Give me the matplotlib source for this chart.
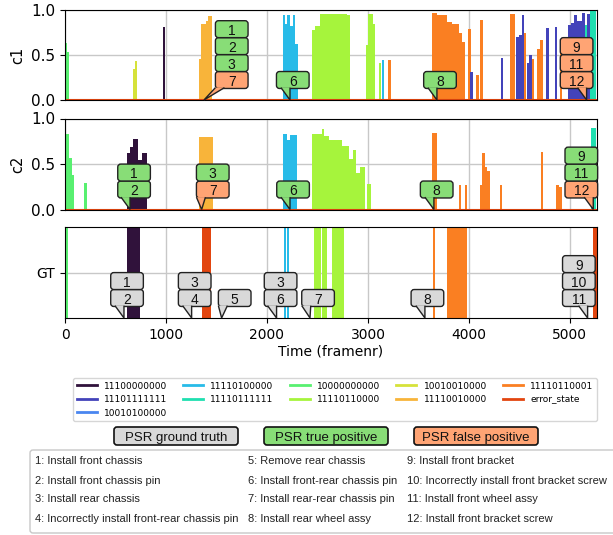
import numpy as np
import matplotlib.pyplot as plt
import matplotlib.patches as mpatches
import matplotlib.transforms as mtransforms
from matplotlib.lines import Line2D

n_frames = 5268

states = ['11100000000', '11101111111', '10010100000', '11110100000', '11110111111',
          '10000000000', '11110110000', '10010010000', '11110010000', '11110110001',
          'error_state']
state_colors = ['#30123b', '#4343ba', '#4a86f0', '#28bbe8', '#1fdfb0',
                '#58f070', '#a6f43c', '#d6e23a', '#f8b43a', '#fa7f22',
                '#e2450f']

# confidence blocks per state: (start frame, end frame, value)
c1_blocks = {
    '10000000000': [(0, 15, 0.63), (15, 40, 0.53)],
    '10010010000': [(670, 690, 0.35), (690, 712, 0.43)],
    '11100000000': [(970, 995, 0.81)],
    '11110010000': [(1327, 1345, 0.46), (1345, 1395, 0.85), (1395, 1420, 0.88), (1420, 1455, 0.93)],
    '11110100000': [(2158, 2180, 0.95), (2180, 2200, 0.85), (2200, 2225, 0.95), (2225, 2260, 0.82),
                    (2260, 2280, 0.95), (2280, 2307, 0.62), (3140, 3160, 0.45)],
    '11110110000': [(2442, 2475, 0.78), (2475, 2525, 0.82), (2525, 2790, 0.96), (2790, 2822, 0.95),
                    (2980, 3003, 0.61), (3003, 3053, 0.96), (3053, 3069, 0.85), (3109, 3129, 0.41)],
    '11110110001': [(3200, 3225, 0.44), (3630, 3680, 0.97), (3680, 3779, 0.94), (3779, 3828, 0.87),
                    (3828, 3878, 0.84), (3878, 3905, 0.85), (3905, 3927, 0.74), (3927, 3960, 0.65),
                    (3995, 4020, 0.79), (4070, 4100, 0.28), (4110, 4140, 0.89), (4323, 4337, 0.44),
                    (4406, 4455, 0.96), (4535, 4561, 0.75), (4620, 4645, 0.46), (4670, 4703, 0.57),
                    (4703, 4733, 0.67), (4900, 4925, 0.55), (5100, 5120, 0.4)],
    '11101111111': [(4010, 4040, 0.31), (4314, 4340, 0.47), (4465, 4495, 0.7), (4495, 4521, 0.72),
                    (4521, 4545, 0.95), (4571, 4595, 0.41), (4595, 4620, 0.5), (4762, 4789, 0.8),
                    (4851, 4874, 0.81), (4980, 5010, 0.83), (5010, 5040, 0.86), (5040, 5070, 0.95),
                    (5070, 5115, 0.88), (5115, 5149, 0.97), (5170, 5198, 0.96)],
    '11110111111': [(5149, 5170, 0.83), (5198, 5257, 1.0)],
}

c2_blocks = {
    '10000000000': [(0, 43, 0.83), (43, 66, 0.57), (66, 89, 0.38), (191, 214, 0.29)],
    '11100000000': [(617, 644, 0.62), (644, 670, 0.69), (670, 726, 0.77), (726, 759, 0.54),
                    (759, 809, 0.62)],
    '11110010000': [(1323, 1462, 0.8)],
    '11110100000': [(2155, 2200, 0.83), (2200, 2232, 0.76), (2232, 2294, 0.82)],
    '11110110000': [(2442, 2541, 0.83), (2541, 2564, 0.89), (2564, 2617, 0.81), (2617, 2739, 0.76),
                    (2739, 2772, 0.7), (2772, 2815, 0.7), (2815, 2855, 0.56), (2855, 2881, 0.65),
                    (2881, 2921, 0.4), (2921, 2970, 0.47), (2987, 3026, 0.28)],
    '11110110001': [(3637, 3680, 0.84), (3904, 3924, 0.27), (3960, 3983, 0.27), (4109, 4132, 0.27),
                    (4132, 4158, 0.62), (4158, 4181, 0.47), (4181, 4207, 0.42), (4307, 4330, 0.27),
                    (4710, 4736, 0.63), (4861, 4888, 0.27), (4894, 4917, 0.25)],
    '11110111111': [(5208, 5254, 0.9)],
}

# ground truth state intervals
gt_spans = {
    '10000000000': [(0, 30)],
    '11100000000': [(616, 745)],
    'error_state': [(1360, 1445), (5225, 5268)],
    '11110100000': [(2170, 2185), (2200, 2215)],
    '11110110000': [(2465, 2533), (2543, 2590), (2647, 2766)],
    '11110110001': [(3647, 3660), (3785, 3977)],
}

# PSR callouts: (frame, labels top->bottom, kind per label)
c1_callouts = [(1376, [1, 2, 3, 7], ['tp', 'tp', 'tp', 'fp']),
               (2228, [6], ['tp']),
               (3683, [8], ['tp']),
               (5165, [9, 11, 12], ['fp', 'fp', 'fp'])]
c2_callouts = [(644, [1, 2], ['tp', 'tp']),
               (1353, [3, 7], ['tp', 'fp']),
               (2228, [6], ['tp']),
               (3653, [8], ['tp']),
               (5231, [9, 11, 12], ['tp', 'tp', 'fp'])]
gt_callouts = [(584, [1, 2], ['gt', 'gt']),
               (1254, [3, 4], ['gt', 'gt']),
               (1551, [5], ['gt']),
               (2095, [3, 6], ['gt', 'gt']),
               (2426, [7], ['gt']),
               (3564, [8], ['gt']),
               (5175, [9, 10, 11], ['gt', 'gt', 'gt'])]
c1_dx = [20, 2, 2.2, -7.2]
c2_dx = [2.9, 8, 2.2, 2, -8.6]
gt_dx = [2.2, 2.2, 9.4, 2.9, 5.8, 1.8, -6.3]

action_names = ['1: Install front chassis', '2: Install front chassis pin',
                '3: Install rear chassis', '4: Incorrectly install front-rear chassis pin',
                '5: Remove rear chassis', '6: Install front-rear chassis pin',
                '7: Install rear-rear chassis pin', '8: Install rear wheel assy',
                '9: Install front bracket', '10: Incorrectly install front bracket screw',
                '11: Install front wheel assy', '12: Install front bracket screw']

kind_colors = {'gt': '#d9d9d9', 'tp': '#88dd77', 'fp': '#ffa474'}
kind_names = [('gt', 'PSR ground truth'), ('tp', 'PSR true positive'), ('fp', 'PSR false positive')]

color_of = dict(zip(states, state_colors))
W, H = 613, 535
fig = plt.figure(figsize=(W / 100, H / 100), dpi=100)


def axes_px(top, bottom):
    return fig.add_axes([65 / W, 1 - bottom / H, 532 / W, (bottom - top) / H])


ax1 = axes_px(10, 100)
ax2 = axes_px(118.5, 209.5)
ax3 = axes_px(227, 318)


def draw_blocks(ax, blocks):
    for st, rows in blocks.items():
        arr = np.array(rows, dtype=float)
        ax.bar(arr[:, 0], arr[:, 2], width=arr[:, 1] - arr[:, 0], align='edge',
               color=color_of[st], linewidth=0, zorder=2)
    ax.plot([0, n_frames], [0, 0], color=color_of['error_state'], lw=1.5, zorder=2.5)


def callout(ax, frame, nums, kinds, dx):
    trans = mtransforms.Affine2D().scale(fig.dpi / 72.) + \
        mtransforms.ScaledTranslation(frame, 0, ax.transData)
    w, h = 23.5, 12.2
    for i, (n, k) in enumerate(zip(nums[::-1], kinds[::-1])):
        cy = 14.4 + i * h
        fc = kind_colors[k]
        box = mpatches.FancyBboxPatch((dx - w / 2, cy - h / 2), w, h,
                                      boxstyle='round,pad=0,rounding_size=2.2',
                                      fc=fc, ec='#222222', lw=1, transform=trans,
                                      clip_on=False, zorder=5)
        ax.add_patch(box)
        if i == 0:
            yb = cy - h / 2
            bl, br = dx - w / 2, dx + w / 2
            xr = min(max(0.0, bl + 6.5), br - 2)
            xl = xr - 6.5
            tail = mpatches.Polygon([(xl, yb + 0.6), (0, 0), (xr, yb + 0.6)], closed=False,
                                    fc=fc, ec='#222222', lw=1, transform=trans,
                                    clip_on=False, zorder=5.1)
            ax.add_patch(tail)
        ax.text(dx, cy, str(n), transform=trans, ha='center', va='center_baseline',
                fontsize=10, family='Liberation Sans', color='#111111', zorder=6, clip_on=False)


draw_blocks(ax1, c1_blocks)
draw_blocks(ax2, c2_blocks)
for st, spans in gt_spans.items():
    arr = np.array(spans, dtype=float)
    ax3.bar(arr[:, 0], np.ones(len(arr)), width=arr[:, 1] - arr[:, 0], align='edge',
            color=color_of[st], linewidth=0, zorder=2)

for ax in (ax1, ax2, ax3):
    ax.set_xlim(0, n_frames)
    ax.set_ylim(0, 1)
    ax.set_axisbelow(True)
    ax.grid(True, color='#c8c8c8', lw=1)
    ax.set_xticks([0, 1000, 2000, 3000, 4000, 5000])
for ax, name in ((ax1, 'c1'), (ax2, 'c2')):
    ax.set_yticks([0, 0.5, 1.0])
    ax.set_yticklabels(['0.0', '0.5', '1.0'], fontsize=11)
    ax.set_ylabel(name, fontsize=10.5, labelpad=4)
    ax.tick_params(axis='x', length=0, labelbottom=False)
ax3.set_yticks([0.5])
ax3.set_yticklabels(['GT'], fontsize=10)
ax3.tick_params(axis='x', labelsize=10)
ax3.set_xlabel('Time (framenr)', fontsize=10, labelpad=2)

for ax, groups, dxs in ((ax1, c1_callouts, c1_dx), (ax2, c2_callouts, c2_dx), (ax3, gt_callouts, gt_dx)):
    for (frame, nums, kinds), dx in zip(groups, dxs):
        callout(ax, frame, nums, kinds, dx)

# state legend
handles = [Line2D([], [], color=c, lw=2) for c in state_colors]
fig.legend(handles, states, ncol=5, loc='upper right', bbox_to_anchor=(597 / W, 1 - 378 / H),
           fontsize=6.5, frameon=True, borderaxespad=0, columnspacing=1.8, handlelength=2.2)


def px_box(x0, y0, x1, y1, **kw):
    p = mpatches.FancyBboxPatch((x0 / 100, (H - y1) / 100), (x1 - x0) / 100, (y1 - y0) / 100,
                                transform=fig.dpi_scale_trans, **kw)
    fig.add_artist(p)


# PSR kind boxes
for (k, txt), cx in zip(kind_names, [176, 326, 476]):
    px_box(cx - 62, 427, cx + 62, 445, boxstyle='round,pad=0,rounding_size=0.03',
           fc=kind_colors[k], ec='#111111', lw=1.2)
    fig.text(cx / W, 1 - 436 / H, txt, ha='center', va='center_baseline', fontsize=9.5,
             family='Liberation Sans', color='#111111')

# action list
px_box(30, 450, 625, 533, boxstyle='round,pad=0,rounding_size=0.03',
       fc='white', ec='#c8c8c8', lw=1)
col_x = [35, 248, 407]
row_y = [460.5, 480.5, 499.5, 519]
for i, s in enumerate(action_names):
    fig.text(col_x[i // 4] / W, 1 - row_y[i % 4] / H, s, ha='left', va='center',
             fontsize=8, family='Liberation Sans', color='#222222')

fig.savefig('out.png', dpi=100)
